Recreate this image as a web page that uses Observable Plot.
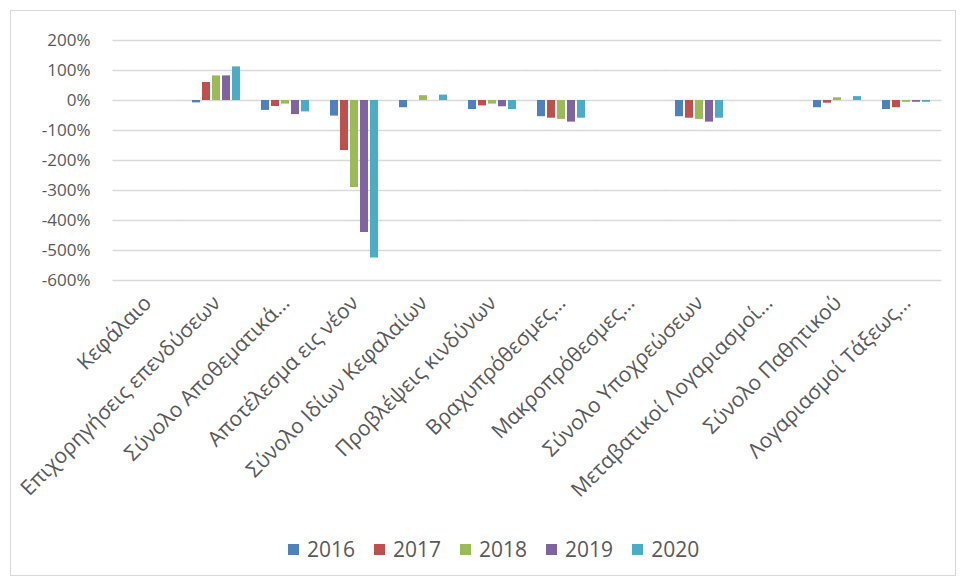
<!DOCTYPE html>
<html>
<head>
<meta charset="utf-8">
<script src="https://cdn.jsdelivr.net/npm/d3@7"></script>
<script src="https://cdn.jsdelivr.net/npm/@observablehq/plot@0.6"></script>
<style>
  html, body { margin: 0; padding: 0; background: #fff; }
  #wrap { position: relative; width: 960px; height: 583px; overflow: hidden; font-family: "Open Sans", sans-serif; }
  #frame { position: absolute; left: 10px; top: 10px; width: 946px; height: 566px; border: 1px solid #d9d9d9; box-sizing: border-box; }
  #chart { position: absolute; left: 0; top: 0; }
  #legend { position: absolute; left: 288px; top: 535px; display: flex; align-items: center; font-size: 21px; color: #595959; }
  .item { display: flex; align-items: center; margin-right: 19px; }
  .sw { width: 11px; height: 11px; margin-right: 8px; }
</style>
</head>
<body>
<div id="wrap">
  <div id="frame"></div>
  <div id="chart"></div>
  <div id="legend"></div>
</div>
<script>
const categories = [
  "Κεφάλαιο",
  "Επιχορηγήσεις επενδύσεων",
  "Σύνολο Αποθεματικά…",
  "Αποτέλεσμα εις νέον",
  "Σύνολο Ιδίων Κεφαλαίων",
  "Προβλέψεις κινδύνων",
  "Βραχυπρόθεσμες…",
  "Μακροπρόθεσμες…",
  "Σύνολο Υποχρεώσεων",
  "Μεταβατικοί Λογαριασμοί…",
  "Σύνολο Παθητικού",
  "Λογαριασμοί Τάξεως…"
];
const years = ["2016", "2017", "2018", "2019", "2020"];
const colors = ["#4F81BD", "#C0504D", "#9BBB59", "#8064A2", "#4BACC6"];
const v2016 = [0, -8, -33, -52, -24, -30, -54, 0, -54, 0, -24, -30];
const v2017 = [0, 60, -20, -167, 0, -18, -59, 0, -59, 0, -9, -24];
const v2018 = [0, 82, -12, -290, 16, -12, -63, 0, -63, 0, 9, -6];
const v2019 = [0, 82, -47, -440, 0, -21, -72, 0, -72, 0, 0, -6];
const v2020 = [0, 112, -38, -525, 18, -30, -59, 0, -59, 0, 13, -6];
const yTicks = [200, 100, 0, -100, -200, -300, -400, -500, -600];

const series = [v2016, v2017, v2018, v2019, v2020];
const data = categories.flatMap((c, i) =>
  years.map((y, j) => ({category: c, year: y, value: series[j][i]}))
);

const step = (960 - 112 - 18) / categories.length;
const gapHalf = step * 0.26 / 2 + 0.5;

const chart = Plot.plot({
  width: 960,
  height: 520,
  marginLeft: 112,
  marginRight: 18,
  marginTop: 40,
  marginBottom: 240,
  style: {fontFamily: "Open Sans, sans-serif", color: "#595959", background: "transparent", overflow: "visible"},
  fx: {domain: categories, paddingInner: 0.26, paddingOuter: 0.13, label: null},
  x: {domain: years, paddingInner: 0.18, paddingOuter: 0, axis: null},
  y: {domain: [-600, 200], label: null},
  color: {domain: years, range: colors},
  marks: [
    Plot.ruleY(yTicks, {y: d => d, stroke: "#d9d9d9", strokeWidth: 1.5, insetLeft: -gapHalf, insetRight: -gapHalf}),
    Plot.barY(data, {fx: "category", x: "year", y: "value", fill: "year"}),
    Plot.axisY({ticks: yTicks, tickSize: 0, tickPadding: 32, tickFormat: d => d + "%", fontSize: 17, label: null}),
    Plot.axisFx({anchor: "bottom", tickSize: 0, tickPadding: 19, tickRotate: -45, fontSize: 21, label: null})
  ]
});
document.getElementById("chart").appendChild(chart);

const legend = document.getElementById("legend");
years.forEach((y, i) => {
  const item = document.createElement("div");
  item.className = "item";
  const sw = document.createElement("div");
  sw.className = "sw";
  sw.style.background = colors[i];
  const t = document.createElement("span");
  t.textContent = y;
  item.appendChild(sw);
  item.appendChild(t);
  legend.appendChild(item);
});
</script>
</body>
</html>
